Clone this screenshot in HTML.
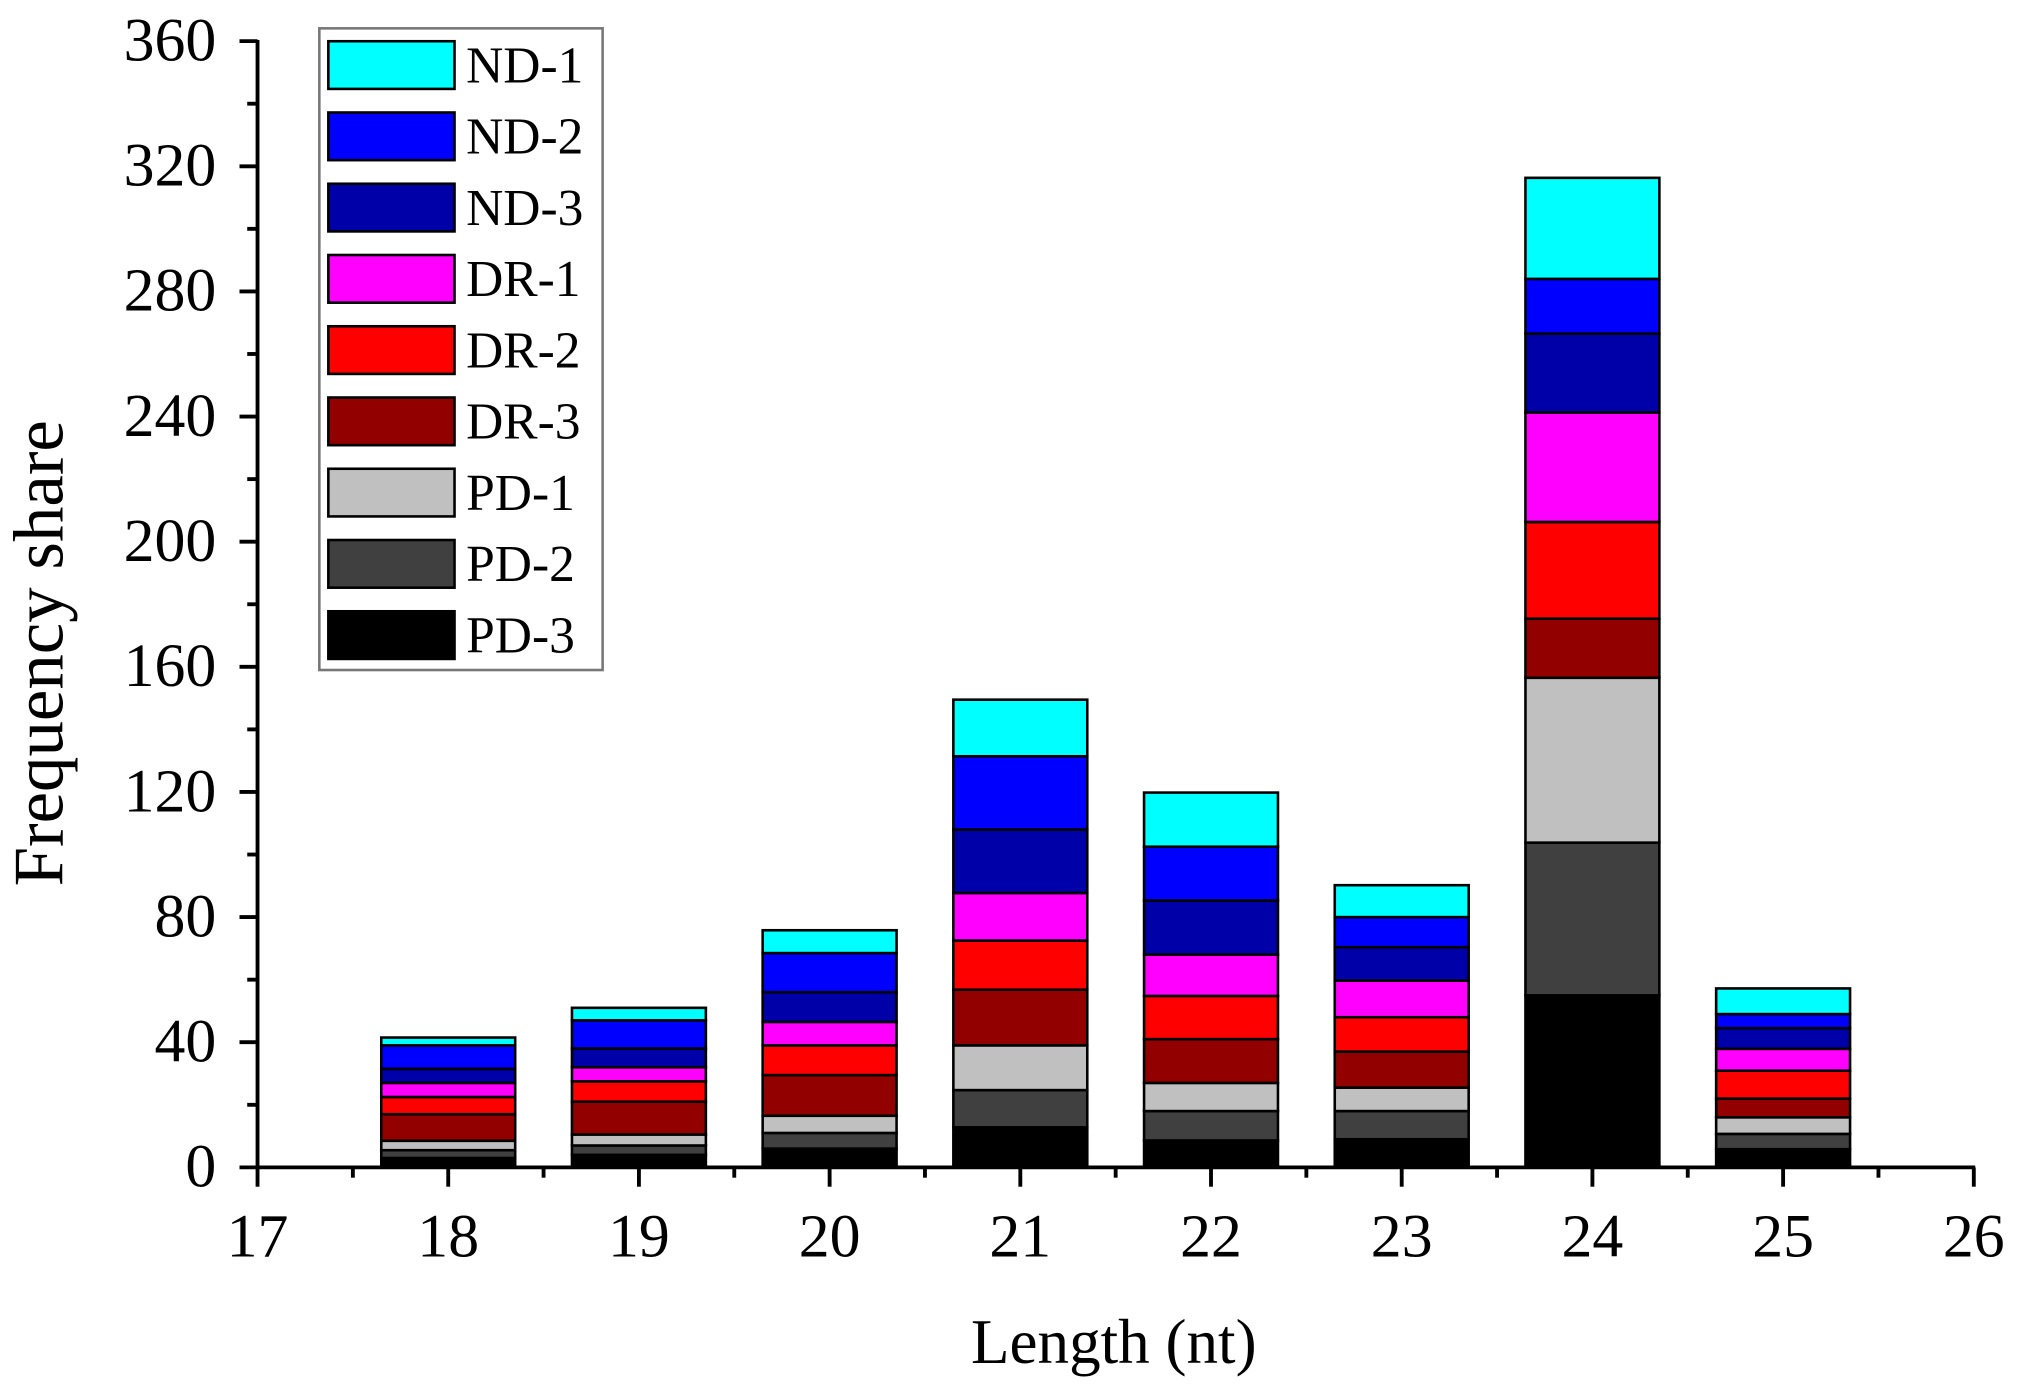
<!DOCTYPE html>
<html><head><meta charset="utf-8"><style>
html,body{margin:0;padding:0;background:#fff;}
svg{display:block;}
text{font-family:"Liberation Serif",serif;fill:#000;}
</style></head><body>
<svg width="2019" height="1389" viewBox="0 0 1568 1078" preserveAspectRatio="none" xmlns="http://www.w3.org/2000/svg">
<g id="bars" stroke="#000" stroke-width="2"></g>
<g stroke="#000" stroke-width="3" fill="none">
<line x1="200" y1="31" x2="200" y2="907"/>
<line x1="199" y1="906" x2="1534" y2="906"/>
</g>
<g id="ticks" stroke="#000" stroke-width="3"></g>
<g id="labels" font-size="48"></g>
<text x="36" y="507" font-size="55" text-anchor="middle" transform="rotate(-90 36 507)" dominant-baseline="middle">Frequency share</text>
<text x="865" y="1058" font-size="49" text-anchor="middle">Length (nt)</text>
<rect x="248" y="22" width="220" height="498" fill="#fff" stroke="#777" stroke-width="2"/>
<g id="legend"></g>
<script>
const colors=["#000000","#404040","#c0c0c0","#930000","#ff0000","#ff00ff","#0000a8","#0000ff","#00ffff"];
const names=["PD-3","PD-2","PD-1","DR-3","DR-2","DR-1","ND-3","ND-2","ND-1"];
const data={18:[3,5.5,8.5,17,22.5,27,31.5,39,41.5],19:[4,7,10.5,21,27.5,32,38,47,51],
20:[6,11,16.5,29.5,39,46.5,56,68.5,75.8],21:[12.8,24.7,39,56.8,72.5,87.7,108,131.4,149.5],
22:[8.6,18,27,41,54.8,68,85.3,102.5,119.8],23:[9,18,25.5,37,48,59.7,70.4,80,90.2],
24:[55,103.8,156.5,175.4,206.3,241.3,266.5,284,316.3],25:[5.8,10.7,16,22,30.9,37.9,44.5,49,57.2]};
const ns="http://www.w3.org/2000/svg";
const Y=v=>906-v*2.428, X=v=>200+(v-17)*148.1;
function el(p,t,a,txt){const e=document.createElementNS(ns,t);for(const k in a)e.setAttribute(k,a[k]);if(txt!=null)e.textContent=txt;document.getElementById(p).appendChild(e);}
for(const k in data){const c=X(+k);let prev=0;data[k].forEach((v,i)=>{el("bars","rect",{x:c-52,y:Y(v),width:104,height:Y(prev)-Y(v),fill:colors[i]});prev=v;});}
for(let v=0;v<=360;v+=20){const maj=v%40==0;el("ticks","line",{x1:200,x2:maj?186:192,y1:Y(v),y2:Y(v)});if(maj)el("labels","text",{x:168,y:Y(v)+15,"text-anchor":"end"},String(v));}
for(let v=17;v<=26;v+=0.5){const maj=v%1==0;el("ticks","line",{x1:X(v),x2:X(v),y1:906,y2:maj?921:914});if(maj)el("labels","text",{x:X(v),y:975,"text-anchor":"middle"},String(v));}
for(let i=0;i<9;i++){const y=32+i*55.3;el("legend","rect",{x:255,y:y,width:98,height:37,fill:colors[8-i],stroke:"#000","stroke-width":2});el("legend","text",{x:362,y:y+32,"font-size":40},names[8-i]);}
</script>
</svg>
</body></html>
